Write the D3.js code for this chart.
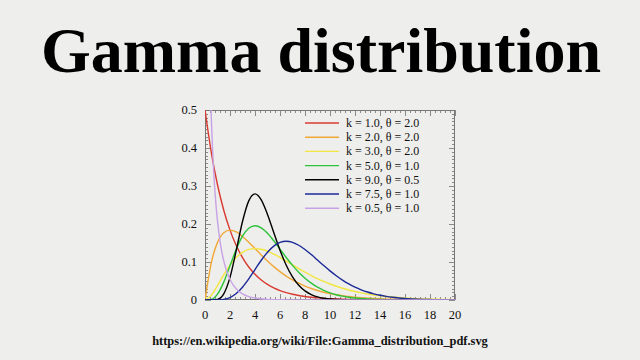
<!DOCTYPE html>
<html><head><meta charset="utf-8">
<script src="https://cdn.jsdelivr.net/npm/d3@7"></script>
<style>html,body{margin:0;padding:0;background:#eeeeec;}svg{display:block;}</style>
</head><body>
<svg id="c" width="640" height="360"></svg>
<script>
const title = "Gamma distribution";
const sourceText = "https://en.wikipedia.org/wiki/File:Gamma_distribution_pdf.svg";
const xGrid = [0,0.5,1,1.5,2,2.5,3,3.5,4,4.5,5,5.5,6,6.5,7,7.5,8,8.5,9,9.5,10,10.5,11,11.5,12,12.5,13,13.5,14,14.5,15,15.5,16,16.5,17,17.5,18,18.5,19,19.5,20];
const labels = ["k = 1.0, θ = 2.0","k = 2.0, θ = 2.0","k = 3.0, θ = 2.0","k = 5.0, θ = 1.0","k = 9.0, θ = 0.5","k = 7.5, θ = 1.0","k = 0.5, θ = 1.0"];
const colors = ["#d83a30","#f0a838","#f2e640","#2ec23a","#000000","#1c2a98","#c9a2e6"];
const yK1 = [0.5,0.3894,0.3033,0.2362,0.1839,0.1433,0.1116,0.0869,0.0677,0.0527,0.0410,0.0320,0.0249,0.0194,0.0151,0.0118,0.0092,0.0071,0.0056,0.0043,0.0034,0.0026,0.0020,0.0016,0.0012,0.0010,0.00075,0.0006,0.00046,0.00036,0.00028,0.00022,0.00017,0.00013,0.0001,0.00008,0.00006,0.00005,0.00004,0.00003,0.00002];
const yK2 = [0,0.0974,0.1516,0.1771,0.1839,0.1791,0.1673,0.1521,0.1353,0.1186,0.1026,0.0879,0.0747,0.0630,0.0528,0.0441,0.0366,0.0303,0.0250,0.0205,0.0168,0.0138,0.0112,0.0092,0.0074,0.0060,0.0049,0.0039,0.0032,0.0026,0.0021,0.0017,0.0013,0.0011,0.0009,0.0007,0.00055,0.00045,0.00036,0.00028,0.00023];
const yK3 = [0,0.0122,0.0379,0.0664,0.0920,0.1119,0.1255,0.1331,0.1353,0.1334,0.1283,0.1208,0.1120,0.1025,0.0925,0.0827,0.0733,0.0644,0.0562,0.0488,0.0421,0.0362,0.0309,0.0263,0.0223,0.0188,0.0159,0.0133,0.0112,0.0093,0.0078,0.0065,0.0054,0.0044,0.0037,0.0030,0.0025,0.0021,0.0017,0.0014,0.0011];
const yK5 = [0,0.0016,0.0153,0.0471,0.0902,0.1336,0.1680,0.1888,0.1954,0.1898,0.1755,0.1558,0.1339,0.1118,0.0912,0.0729,0.0573,0.0443,0.0337,0.0254,0.0189,0.0139,0.0102,0.0074,0.0053,0.0038,0.0027,0.0019,0.0013,0.0009,0.00065,0.00045,0.0003,0.0002,0.00014,0.0001,0.00006,0.00004,0.00003,0.00002,0.00001];
const yK9 = [0,0.00002,0.0017,0.0162,0.0595,0.1306,0.2065,0.2608,0.2792,0.2635,0.2252,0.1776,0.1310,0.0915,0.0609,0.0389,0.0240,0.0143,0.0083,0.0047,0.0026,0.0014,0.00076,0.0004,0.00021,0.0001,0.00005,0.00002,0.00001,0,0,0,0,0,0,0,0,0,0,0,0];
const yK75 = [0,0.000004,0.0002,0.0017,0.0065,0.0169,0.0336,0.0555,0.0802,0.1046,0.1258,0.1418,0.1514,0.1546,0.1517,0.1441,0.1329,0.1195,0.1051,0.0906,0.0767,0.0639,0.0524,0.0425,0.0340,0.0269,0.0210,0.0163,0.0125,0.0095,0.0072,0.0054,0.0040,0.0030,0.0022,0.0016,0.0012,0.00085,0.00061,0.00044,0.00032];
const xHalf = [0.1,0.2,0.3,0.35,0.4,0.45,0.5,0.6,0.7,0.8,0.9,1,1.25,1.5,1.75,2,2.5,3,3.5,4,5,6,7,8,10,12,14,16,18,20];
const yHalf = [1.6143,1.0329,0.7631,0.6720,0.5980,0.5363,0.4839,0.3997,0.3349,0.2834,0.2418,0.2076,0.1446,0.1028,0.0741,0.0540,0.0293,0.0162,0.0091,0.0052,0.0017,0.00057,0.00019,0.00007,0.00001,0,0,0,0,0];
const xTicks = [0,2,4,6,8,10,12,14,16,18,20];
const yTicks = [0,0.1,0.2,0.3,0.4,0.5];

const series = [
  {x: xGrid, y: yK1}, {x: xGrid, y: yK2}, {x: xGrid, y: yK3}, {x: xGrid, y: yK5},
  {x: xGrid, y: yK9}, {x: xGrid, y: yK75}, {x: xHalf, y: yHalf}
];

const svg = d3.select("#c");
const L = 205, R = 455, T = 110, B = 300;
const x = d3.scaleLinear().domain([0,20]).range([L,R]);
const y = d3.scaleLinear().domain([0,0.5]).range([B,T]);
const serif = "'Liberation Serif','Times New Roman',serif";

svg.append("text").attr("x",321).attr("y",72).attr("text-anchor","middle")
  .attr("font-family",serif).attr("font-weight","bold")
  .attr("font-size",64).attr("fill","#000").text(title);

svg.append("defs").append("clipPath").attr("id","clip").append("rect")
  .attr("x",L).attr("y",T).attr("width",R-L).attr("height",B-T);

const tickCol = "#8a8a8a";
const axes = svg.append("g").attr("stroke",tickCol).attr("stroke-width",1);
const xMinor = d3.range(0,20.001,0.4);
const yMinor = d3.range(0,0.5001,0.01);
xMinor.forEach(v=>{
  const px = Math.round(x(v))+0.5;
  axes.append("line").attr("x1",px).attr("x2",px).attr("y1",B).attr("y2",B-3);
  axes.append("line").attr("x1",px).attr("x2",px).attr("y1",T).attr("y2",T+3);
});
yMinor.forEach(v=>{
  const py = Math.round(y(v))+0.5;
  axes.append("line").attr("x1",L).attr("x2",L+3).attr("y1",py).attr("y2",py);
  axes.append("line").attr("x1",R).attr("x2",R-3).attr("y1",py).attr("y2",py);
});
xTicks.forEach(v=>{
  const px = Math.round(x(v))+0.5;
  axes.append("line").attr("x1",px).attr("x2",px).attr("y1",B).attr("y2",B-6);
  axes.append("line").attr("x1",px).attr("x2",px).attr("y1",T).attr("y2",T+6);
});
yTicks.forEach(v=>{
  const py = Math.round(y(v))+0.5;
  axes.append("line").attr("x1",L).attr("x2",L+6).attr("y1",py).attr("y2",py);
  axes.append("line").attr("x1",R).attr("x2",R-6).attr("y1",py).attr("y2",py);
});
svg.append("rect").attr("x",L+0.5).attr("y",T+0.5).attr("width",R-L-1).attr("height",B-T-1)
  .attr("fill","none").attr("stroke","#777").attr("stroke-width",1);

const lab = svg.append("g").attr("font-family",serif).attr("font-size",12.5).attr("fill","#111");
xTicks.forEach(v=>{
  lab.append("text").attr("x",x(v)).attr("y",B+19).attr("text-anchor","middle").text(d3.format("d")(v));
});
yTicks.forEach(v=>{
  lab.append("text").attr("x",L-8).attr("y",y(v)+4).attr("text-anchor","end").text(v===0?"0":d3.format(".1f")(v));
});

const line = d3.line().curve(d3.curveMonotoneX);
const plot = svg.append("g").attr("clip-path","url(#clip)");
series.forEach((s,i)=>{
  const pts = s.x.map((xv,j)=>[x(xv), y(s.y[j])]);
  plot.append("path").attr("d",line(pts)).attr("fill","none")
    .attr("stroke",colors[i]).attr("stroke-width",1.4);
});

const leg = svg.append("g");
labels.forEach((t,i)=>{
  const ly = 123 + i*14.2;
  leg.append("line").attr("x1",305).attr("x2",339).attr("y1",ly).attr("y2",ly)
    .attr("stroke",colors[i]).attr("stroke-width",1.4);
  leg.append("text").attr("x",346).attr("y",ly+4).attr("font-family",serif)
    .attr("font-size",12).attr("fill","#111").text(t);
});

svg.append("text").attr("x",320).attr("y",345).attr("text-anchor","middle")
  .attr("font-family",serif).attr("font-weight","bold")
  .attr("font-size",12.4).attr("fill","#111").text(sourceText);
</script>
</body></html>
